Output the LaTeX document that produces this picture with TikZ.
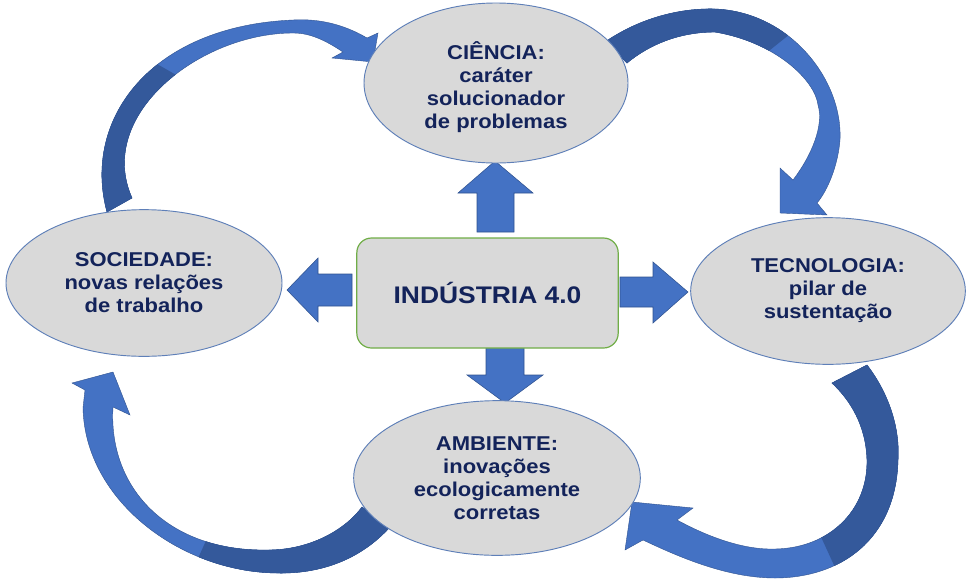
\documentclass[tikz,border=0pt]{standalone}
\usepackage{fontspec}
\setmainfont{Liberation Sans}[FakeStretch=1.1]
\usetikzlibrary{shapes.geometric,backgrounds}
\definecolor{arrL}{HTML}{4472C4}
\definecolor{arrD}{HTML}{34599B}
\definecolor{arrE}{HTML}{2F528F}
\definecolor{ellF}{HTML}{D9D9D9}
\definecolor{ellE}{HTML}{5E7FB8}
\definecolor{boxE}{HTML}{70AD47}
\definecolor{txt}{HTML}{13235A}
\newcommand\crvOne{(107,212) .. controls (82,120) and (150,26) .. (293,20) .. controls (325,18) and (350,28) .. (367,38)
  -- (378,33) -- (373,62) -- (332,58) -- (343,52)
  .. controls (325,40) and (310,33) .. (293,33) .. controls (200,33) and (95,115) .. (132,198) -- cycle}
\newcommand\crvTwo{(605,42) .. controls (640,18) and (680,8) .. (715,9) .. controls (790,12) and (843,80) .. (840,140)
  .. controls (838,165) and (828,190) .. (817,203)
  -- (827,215) -- (780,213) -- (780,168) -- (793,180)
  .. controls (812,155) and (824,125) .. (818,105) .. controls (815,80) and (775,42) .. (715,32)
  .. controls (680,32) and (650,44) .. (627,63) -- cycle}
\newcommand\crvThree{(867,365) .. controls (890,395) and (900,430) .. (898,460) .. controls (896,540) and (840,578) .. (775,578)
  .. controls (725,578) and (675,555) .. (643,540)
  -- (625,550) -- (632,502) -- (693,508) -- (677,520)
  .. controls (710,538) and (745,550) .. (775,549) .. controls (830,548) and (868,510) .. (867,460)
  .. controls (866,425) and (850,400) .. (832,383) -- cycle}
\newcommand\crvFour{(390,527) .. controls (360,560) and (320,574) .. (277,573) .. controls (180,572) and (85,500) .. (83,408)
  -- (85,390) -- (72,383) -- (113,372) -- (130,415) -- (113,407)
  .. controls (108,490) and (170,552) .. (268,550) .. controls (310,550) and (345,530) .. (362,507) -- cycle}
\begin{document}
\begin{tikzpicture}[x=0.75pt,y=-0.75pt,
 ell/.style={ellipse, fill=ellF, draw=ellE, line width=0.7pt, inner sep=0pt, align=center, text=txt, font=\bfseries\fontsize{15}{17.25}\selectfont},
 hub/.style={rectangle, rounded corners=11pt, fill=ellF, draw=boxE, line width=0.9pt, text=txt, font=\bfseries\fontsize{18}{21}\selectfont},
 blk/.style={fill=arrL, draw=arrE, line width=0.4pt},
 crvL/.style={fill=arrL, draw=arrE, line width=0.3pt},
 crvD/.style={fill=arrD, draw=arrE, line width=0.3pt}]
\useasboundingbox (0,0) rectangle (966,579);

\node[ell, minimum width=198pt, minimum height=120pt] (cie) at (496,83) {\rule{0pt}{19pt}CIÊNCIA:\\caráter\\solucionador\\de problemas};
\node[ell, minimum width=207pt, minimum height=110pt] (soc) at (144,283) {SOCIEDADE:\\novas relações\\de trabalho};
\node[ell, minimum width=206pt, minimum height=110pt] (tec) at (828,291) {TECNOLOGIA:\\pilar de\\sustentação};
\node[ell, minimum width=215pt, minimum height=116pt] (amb) at (497,478) {AMBIENTE:\\inovações\\ecologicamente\\corretas};
\node[hub, minimum width=196pt, minimum height=82.5pt] (ind) at (487.5,293) {INDÚSTRIA 4.0};

\begin{pgfonlayer}{background}
% curved arrow 1: SOCIEDADE -> CIENCIA
\path[crvL] \crvOne;
\begin{scope}
  \clip (45,0) -- (255,120) -- (255,260) -- (0,260) -- (0,0) -- cycle;
  \path[crvD] \crvOne;
\end{scope}
% curved arrow 2: CIENCIA -> TECNOLOGIA
\path[crvL] \crvTwo;
\begin{scope}
  \clip (845,-10) -- (725,86) -- (580,86) -- (580,-10) -- cycle;
  \path[crvD] \crvTwo;
\end{scope}
% curved arrow 3: TECNOLOGIA -> AMBIENTE
\path[crvL] \crvThree;
\begin{scope}
  \clip (855,611) -- (789,467) -- (789,340) -- (980,340) -- (980,611) -- cycle;
  \path[crvD] \crvThree;
\end{scope}
% curved arrow 4: AMBIENTE -> SOCIEDADE
\path[crvL] \crvFour;
\begin{scope}
  \clip (186.5,584) -- (236,474) -- (420,474) -- (420,584) -- cycle;
  \path[crvD] \crvFour;
\end{scope}
% block arrows from INDUSTRIA 4.0
\path[blk] (477,232) -- (477,193) -- (458,193) -- (495,161) -- (533,193) -- (514,193) -- (514,232) -- cycle;
\path[blk] (486,347) -- (486,375) -- (467,375) -- (505,403) -- (543,375) -- (524,375) -- (524,347) -- cycle;
\path[blk] (352,274) -- (318,274) -- (318,258) -- (287,290) -- (318,322) -- (318,306) -- (352,306) -- cycle;
\path[blk] (620,277) -- (653,277) -- (653,262) -- (688,292) -- (653,323) -- (653,307) -- (620,307) -- cycle;
\end{pgfonlayer}
\end{tikzpicture}
\end{document}
